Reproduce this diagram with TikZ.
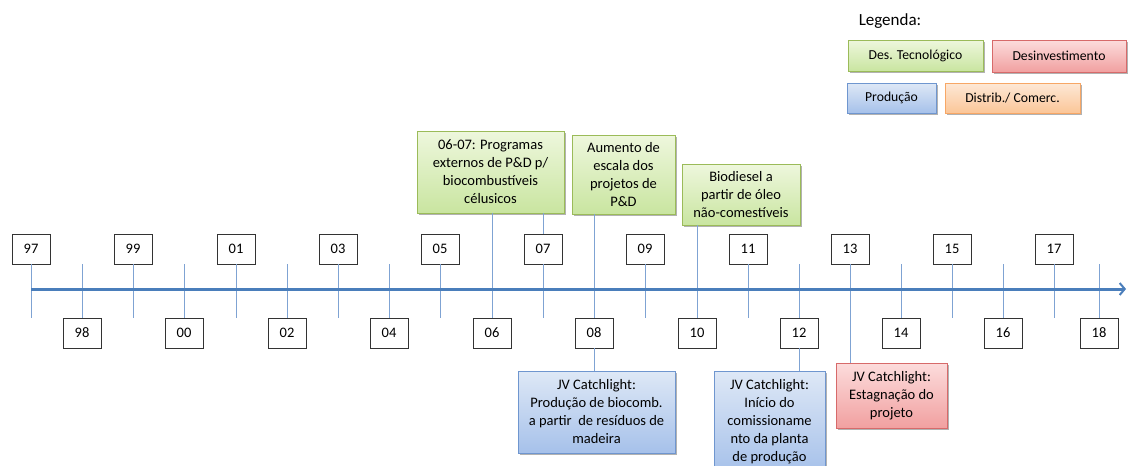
\documentclass[tikz,border=0pt]{standalone}
\usepackage{fontspec}
\setmainfont{Carlito}
\usetikzlibrary{shadows,arrows.meta}
\definecolor{axisblue}{HTML}{4A7EBB}
\definecolor{tickblue}{HTML}{7FA3D3}
\definecolor{greenedge}{HTML}{9BBB59}
\definecolor{greentop}{HTML}{EEF7DD}
\definecolor{greenbot}{HTML}{C9E5A0}
\definecolor{blueedge}{HTML}{6F96CF}
\definecolor{bluetop}{HTML}{DEE8F6}
\definecolor{bluebot}{HTML}{A6C1EA}
\definecolor{rededge}{HTML}{D76A6A}
\definecolor{redtop}{HTML}{FCDCDC}
\definecolor{redbot}{HTML}{F1A0A0}
\definecolor{orangeedge}{HTML}{F7A766}
\definecolor{orangetop}{HTML}{FDE8D6}
\definecolor{orangebot}{HTML}{FBC698}
\begin{document}
\begin{tikzpicture}[x=1pt,y=-1pt,
  font=\fontsize{14.5}{18}\selectfont,
  yearbox/.style={draw=black!80, fill=white, minimum width=38pt, minimum height=30pt,
    inner sep=0pt, line width=0.9pt,
    drop shadow={shadow xshift=1pt,shadow yshift=-1pt,opacity=0.25,fill=black}},
  card/.style={draw, align=center, inner sep=2pt, line width=0.9pt,
    drop shadow={shadow xshift=1.5pt,shadow yshift=-1.5pt,opacity=0.3,fill=black}},
  legcard/.style={font=\fontsize{13.7}{17}\selectfont},
  tech/.style={card, draw=greenedge, top color=greentop, bottom color=greenbot},
  prod/.style={card, draw=blueedge, top color=bluetop, bottom color=bluebot},
  divest/.style={card, draw=rededge, top color=redtop, bottom color=redbot},
  trade/.style={card, draw=orangeedge, top color=orangetop, bottom color=orangebot},
  tick/.style={draw=tickblue, line width=1pt},
  axisline/.style={draw=axisblue, line width=3pt}]
\useasboundingbox (0,0) rectangle (1128,466);
\clip (0,0) rectangle (1128,466);

% legend
\node[font=\fontsize{17}{20}\selectfont] (legtitle) at (890,21) {Legenda:};
\node[tech, legcard, minimum width=135pt, minimum height=31pt] (legtech) at (915.5,55.5) {Des. Tecnológico};
\node[divest, legcard, minimum width=134pt, minimum height=32pt] (legdiv) at (1059,56) {Desinvestimento};
\node[prod, legcard, minimum width=89pt, minimum height=30pt] (legprod) at (891.5,98) {Produção};
\node[trade, legcard, minimum width=135pt, minimum height=30pt] (legtrade) at (1012.5,98) {Distrib./ Comerc.};

% year boxes above the axis
\foreach \lab/\x in {97/31,99/133,01/236,03/338,05/440,07/543,09/645,11/748,13/850,15/952,17/1054}
  \node[yearbox] (y\lab) at (\x,249) {\lab};
% year boxes below the axis
\foreach \lab/\x in {98/82,00/184,02/287,04/389,06/492,08/594,10/697,12/799,14/901,16/1003,18/1099}
  \node[yearbox] (y\lab) at (\x,333) {\lab};

% ticks
\foreach \lab in {97,99,01,03,05,07,09,11,15,17}
  \draw[tick] (y\lab.south) -- ++(0,54);
\foreach \lab in {98,00,02,04,06,08,10,12,14,16,18}
  \draw[tick] (y\lab.north) -- ++(0,-54);

% event cards
\node[tech, minimum width=147pt, minimum height=82pt] (g1) at (490.5,172)
  {06-07: Programas\\externos de P\&D p/\\biocombustíveis\\célusicos};
\node[tech, minimum width=103pt, minimum height=79pt] (g2) at (623.5,174.5)
  {Aumento de\\escala dos\\projetos de\\P\&D};
\node[tech, minimum width=118pt, minimum height=61pt] (g3) at (741,194.5)
  {Biodiesel a\\partir de óleo\\não-comestíveis};
\node[prod, minimum width=157pt, minimum height=82pt] (b1) at (596.5,412)
  {JV Catchlight:\\Produção de biocomb.\\a partir \ de resíduos de\\madeira};
\node[prod, minimum width=111pt, minimum height=102pt] (b2) at (769.5,422)
  {JV Catchlight:\\Início do\\comissioname\\nto da planta\\de produção};
\node[divest, minimum width=111pt, minimum height=65pt] (r1) at (891.5,395.5)
  {JV Catchlight:\\Estagnação do\\projeto};

% connectors from cards to years
\draw[tick] (y06 |- g1.south) -- (y06.north);
\draw[tick] (y07 |- g1.south) -- (y07.north);
\draw[tick] (y08 |- g2.south) -- (y08.north);
\draw[tick] (y10 |- g3.south) -- (y10.north);
\draw[tick] (y08.south) -- (y08 |- b1.north);
\draw[tick] (y12.south) -- (y12 |- b2.north);
\draw[tick] (y13.south) -- (y13 |- r1.north);

% time axis
\coordinate (axisend) at (1126,289);
\draw[axisline, -{Straight Barb[length=5pt,width=12pt,line width=2pt]}] (y97 |- axisend) -- (axisend);
\end{tikzpicture}
\end{document}
